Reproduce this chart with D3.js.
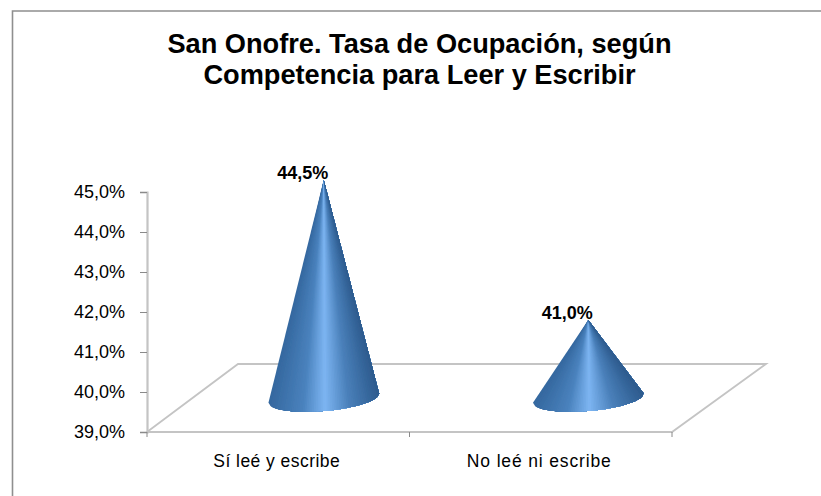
<!DOCTYPE html>
<html>
<head>
<meta charset="utf-8">
<script src="https://cdn.jsdelivr.net/npm/d3@7"></script>
<style>
body { margin: 0; background: #fff; }
text { font-family: "Liberation Sans", Arial, sans-serif; fill: #000; }
</style>
</head>
<body>
<div id="container"></div>
<script>
var titleLines = ["San Onofre. Tasa de Ocupación, según", "Competencia para Leer y Escribir"];
var categories = ["Sí leé y escribe", "No leé ni escribe"];
var values = [44.5, 41.0];
var labels = ["44,5%", "41,0%"];
var ticks = [39, 40, 41, 42, 43, 44, 45];

var width = 821, height = 496;
var svg = d3.select("#container").append("svg").attr("width", width).attr("height", height)
  .style("display", "block");
var defs = svg.append("defs");
defs.append("filter").attr("id", "soft").append("feGaussianBlur").attr("stdDeviation", 0.7);

// frame, open at right and bottom
svg.append("path").attr("d", "M12.5,496V11H821").attr("fill", "none").attr("stroke", "#8f8f8f").attr("stroke-width", 1.6);

var x = d3.scaleBand().domain(categories).range([147, 672]);
var y = d3.scaleLinear().domain([39, 45]).range([432, 192]);
var depthX = 91, depthY = -68;   // floor depth

svg.selectAll("text.title").data(titleLines).enter().append("text")
  .attr("class", "title").attr("x", 419.5).attr("y", function(d, i) { return 53 + i * 30.5; })
  .attr("text-anchor", "middle").attr("font-size", 27.2).attr("font-weight", "bold").text(function(d) { return d; });

// floor
var floorColor = "#c4c4c4";
svg.append("path")
  .attr("d", "M" + x.range()[0] + "," + y(39) + "L" + (x.range()[0] + depthX) + "," + (y(39) + depthY) +
    "H" + (x.range()[1] + depthX + 3) + "L" + x.range()[1] + "," + y(39) + "Z")
  .attr("fill", "none").attr("stroke", floorColor).attr("stroke-width", 1.8);

// axes
var yAxis = d3.axisLeft(y).tickValues(ticks).tickSize(7).tickFormat(function(d) { return d.toFixed(1).replace(".", ",") + "%"; });
var gy = svg.append("g").attr("transform", "translate(147,0)").call(yAxis);
gy.select(".domain").attr("stroke", "#c4c4c4").attr("stroke-width", 2.2);
gy.selectAll(".tick line").attr("stroke", "#8a8a8a");
gy.selectAll("text").attr("font-size", 18).attr("x", -22).attr("fill", "#111");

var gx = svg.append("g").attr("transform", "translate(0," + y(39) + ")");
var edges = [x.range()[0], x.range()[0] + x.step(), x.range()[1]];
gx.selectAll("line.edge").data(edges).enter().append("line").attr("class", "edge")
  .attr("x1", function(d) { return d; }).attr("x2", function(d) { return d; })
  .attr("y1", 0).attr("y2", 5).attr("stroke", "#8a8a8a");

var catSpacing = [0.45, 0.85];
svg.selectAll("text.cat").data(categories).enter().append("text")
  .attr("class", "cat").attr("x", function(d) { return x(d) + x.bandwidth() / 2 - 1.5; }).attr("y", 467)
  .attr("text-anchor", "middle").attr("font-size", 17.5).attr("fill", "#111")
  .attr("letter-spacing", function(d, i) { return catSpacing[i]; }).text(function(d) { return d; });

// cones, drawn as facets from the tip to the front of the base so the highlight narrows upward
// each facet runs on to the end of the base, the next one paints over it, so no seams show
var rx = 55.5, ry = 13, tilt = -5 * Math.PI / 180;
var shade = d3.scaleLinear().domain([0, 0.3, 0.5, 0.72, 1])
  .range(["#35689f", "#4a82bd", "#7db5f2", "#4a80ba", "#2d5b8e"]);
var steps = d3.range(0, 60);

function basePoint(cx, cy, a) {
  var px = rx * Math.cos(a), py = ry * Math.sin(a);
  return [cx + px * Math.cos(tilt) - py * Math.sin(tilt), cy + px * Math.sin(tilt) + py * Math.cos(tilt)];
}

var cones = svg.selectAll("g.cone").data(values).enter().append("g").attr("class", "cone")
  .attr("filter", "url(#soft)");
cones.each(function(v, i) {
  var cx = x(categories[i]) + x.bandwidth() / 2 + depthX / 2 + i * 2;
  var cy = y(39) + depthY / 2;
  var tipY = y(v) - 32;
  d3.select(this).selectAll("path").data(steps).enter().append("path")
    .attr("d", function(k) {
      // k-th slice is even in screen x, not in angle
      var pts = d3.range(k, steps.length + 1).map(function(j) {
        return basePoint(cx, cy, Math.acos(1 - 2 * (steps.length - j) / steps.length));
      });
      return "M" + cx + "," + tipY + "L" + pts.join("L") + "Z";
    })
    .attr("fill", function(k) { return shade((k + 0.5) / steps.length); });
});

svg.selectAll("text.val").data(values).enter().append("text").attr("class", "val")
  .attr("x", function(d, i) { return x(categories[i]) + x.bandwidth() / 2 + depthX / 2 - 21 + i * 2; })
  .attr("y", function(d) { return y(d) - 33; })
  .attr("font-size", 18).attr("font-weight", "bold")
  .attr("text-anchor", "middle").text(function(d, i) { return labels[i]; });
</script>
</body>
</html>
